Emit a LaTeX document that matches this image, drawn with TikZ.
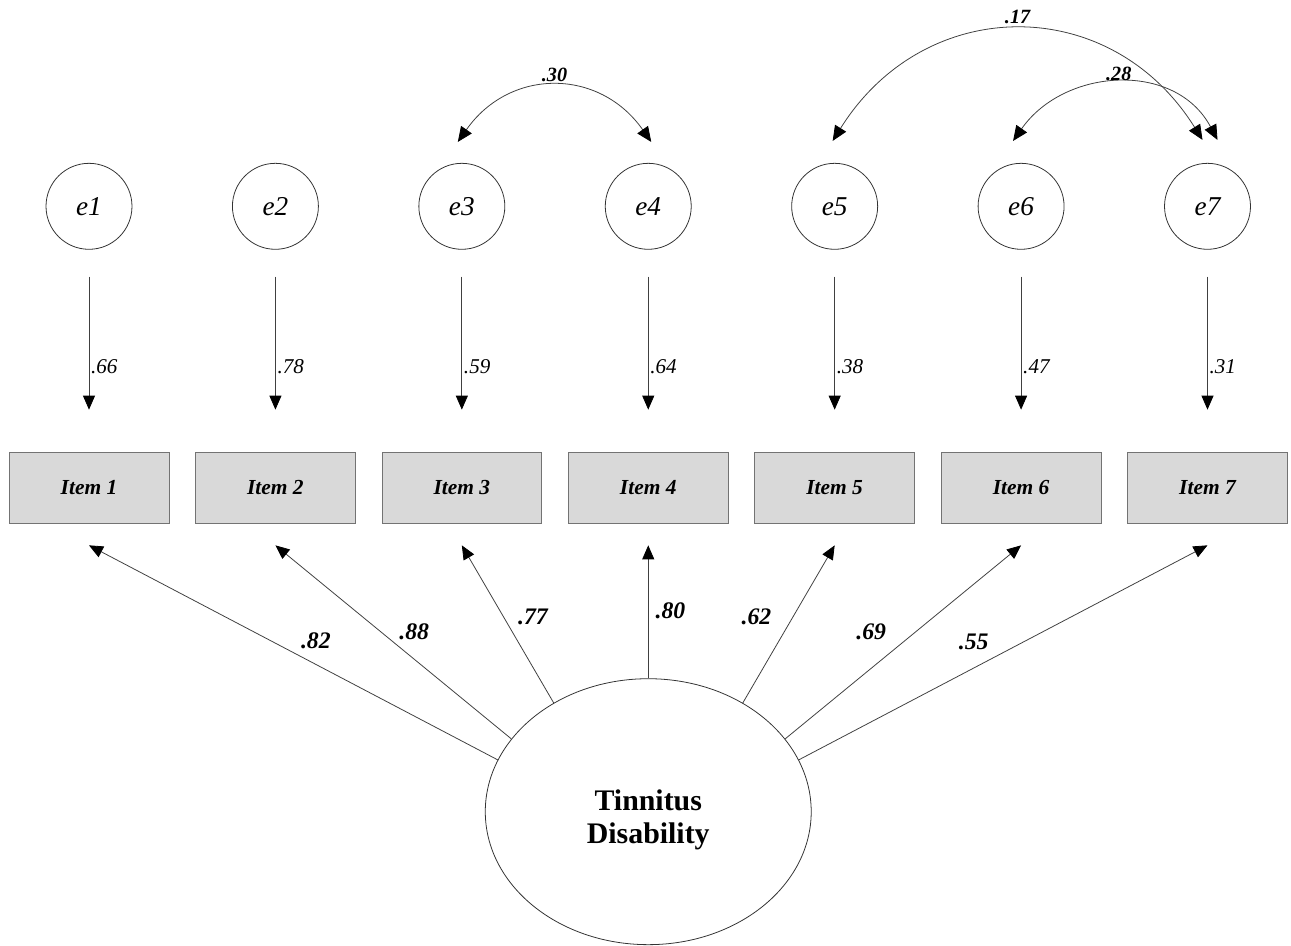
\documentclass[tikz,border=0pt]{standalone}
\usepackage{fontspec}
\setmainfont{Liberation Serif}
\usetikzlibrary{positioning,shapes.geometric,arrows.meta}

\begin{document}
\begin{tikzpicture}[x=0.02cm,y=-0.02cm,node distance=0.515cm,
	item/.style={draw=black!55,fill=black!15,minimum width=3.2cm,minimum height=1.42cm,inner sep=0pt,font=\fontsize{12.2}{14}\selectfont\bfseries\itshape},
	err/.style={circle,draw=black!80,line width=0.45pt,minimum size=1.72cm,inner sep=0pt,font=\fontsize{15.5}{17}\selectfont\itshape},
	res/.style={-{Triangle[length=0.28cm,width=0.24cm,color=black]},draw=black!75,line width=0.45pt,shorten <=0.54cm,shorten >=0.84cm},
	load/.style={-{Triangle[length=0.28cm,width=0.24cm,color=black]},draw=black!75,line width=0.45pt},
	cov/.style={{Triangle[length=0.3cm,width=0.26cm,color=black]}-{Triangle[length=0.3cm,width=0.26cm,color=black]},draw=black!75,line width=0.45pt},
	lab/.style={font=\fontsize{12}{13}\selectfont\itshape,inner sep=1pt},
	blab/.style={font=\fontsize{13.5}{15}\selectfont\bfseries\itshape,inner sep=2pt},
	clab/.style={font=\fontsize{11.5}{13}\selectfont\bfseries\itshape,inner sep=2.5pt}]
	\useasboundingbox (0,0) rectangle (1291,946);
	% indicators
	\node(i1) [item] at (89,487.5) {Item 1};
	\node(i2) [item,right=of i1] {Item 2};
	\node(i3) [item,right=of i2] {Item 3};
	\node(i4) [item,right=of i3] {Item 4};
	\node(i5) [item,right=of i4] {Item 5};
	\node(i6) [item,right=of i5] {Item 6};
	\node(i7) [item,right=of i6] {Item 7};
	% error terms
	\node(e1) [err,above=4.04cm of i1] {e1};
	\node(e2) [err,above=4.04cm of i2] {e2};
	\node(e3) [err,above=4.04cm of i3] {e3};
	\node(e4) [err,above=4.04cm of i4] {e4};
	\node(e5) [err,above=4.04cm of i5] {e5};
	\node(e6) [err,above=4.04cm of i6] {e6};
	\node(e7) [err,above=4.04cm of i7] {e7};
	% latent factor
	\node(td) [ellipse,draw=black!80,line width=0.45pt,minimum width=6.52cm,minimum height=5.32cm,inner sep=0pt,align=center,below=3.1cm of i4,font=\fontsize{17}{19}\selectfont\bfseries] {\\[2pt]Tinnitus\\Disability};
	\draw[res] (e1) -- node[lab,pos=0.58,right]{.66} (i1);
	\draw[res] (e2) -- node[lab,pos=0.58,right]{.78} (i2);
	\draw[res] (e3) -- node[lab,pos=0.58,right]{.59} (i3);
	\draw[res] (e4) -- node[lab,pos=0.58,right]{.64} (i4);
	\draw[res] (e5) -- node[lab,pos=0.58,right]{.38} (i5);
	\draw[res] (e6) -- node[lab,pos=0.58,right]{.47} (i6);
	\draw[res] (e7) -- node[lab,pos=0.58,right]{.31} (i7);
	\draw[load] (td.161) -- node[blab,pos=0.445,above=6.5pt]{.82} ([yshift=-0.44cm]i1.south);
	\draw[load] (td.152) -- node[blab,pos=0.412,above=8.5pt]{.88} ([yshift=-0.44cm]i2.south);
	\draw[load] (td.131) -- node[blab,pos=0.544,right=6pt]{.77} ([yshift=-0.44cm]i3.south);
	\draw[load] (td.90) -- node[blab,pos=0.51,right=2pt]{.80} ([yshift=-0.44cm]i4.south);
	\draw[load] (td.49) -- node[blab,pos=0.544,left=10pt]{.62} ([yshift=-0.44cm]i5.south);
	\draw[load] (td.28) -- node[blab,pos=0.552,left=14.5pt]{.69} ([yshift=-0.44cm]i6.south);
	\draw[load] (td.19) -- node[blab,pos=0.428,above=8pt]{.55} ([yshift=-0.44cm]i7.south);
	% correlated errors
	\draw[cov] ([xshift=-0.08cm,yshift=0.42cm]e3.north) to[out=55,in=125,looseness=1.2] node[clab,above]{.30} ([xshift=0.06cm,yshift=0.42cm]e4.north);
	\draw[cov] ([xshift=-0.04cm,yshift=0.44cm]e5.north) to[out=58,in=122,looseness=1.2] node[clab,above,inner sep=3.5pt]{.17} ([xshift=-0.1cm,yshift=0.46cm]e7.north);
	\draw[cov] ([xshift=-0.16cm,yshift=0.44cm]e6.north) to[out=55,in=118,looseness=1.12] node[clab,above,inner sep=1pt]{.28} ([xshift=0.2cm,yshift=0.46cm]e7.north);
\end{tikzpicture}
\end{document}
